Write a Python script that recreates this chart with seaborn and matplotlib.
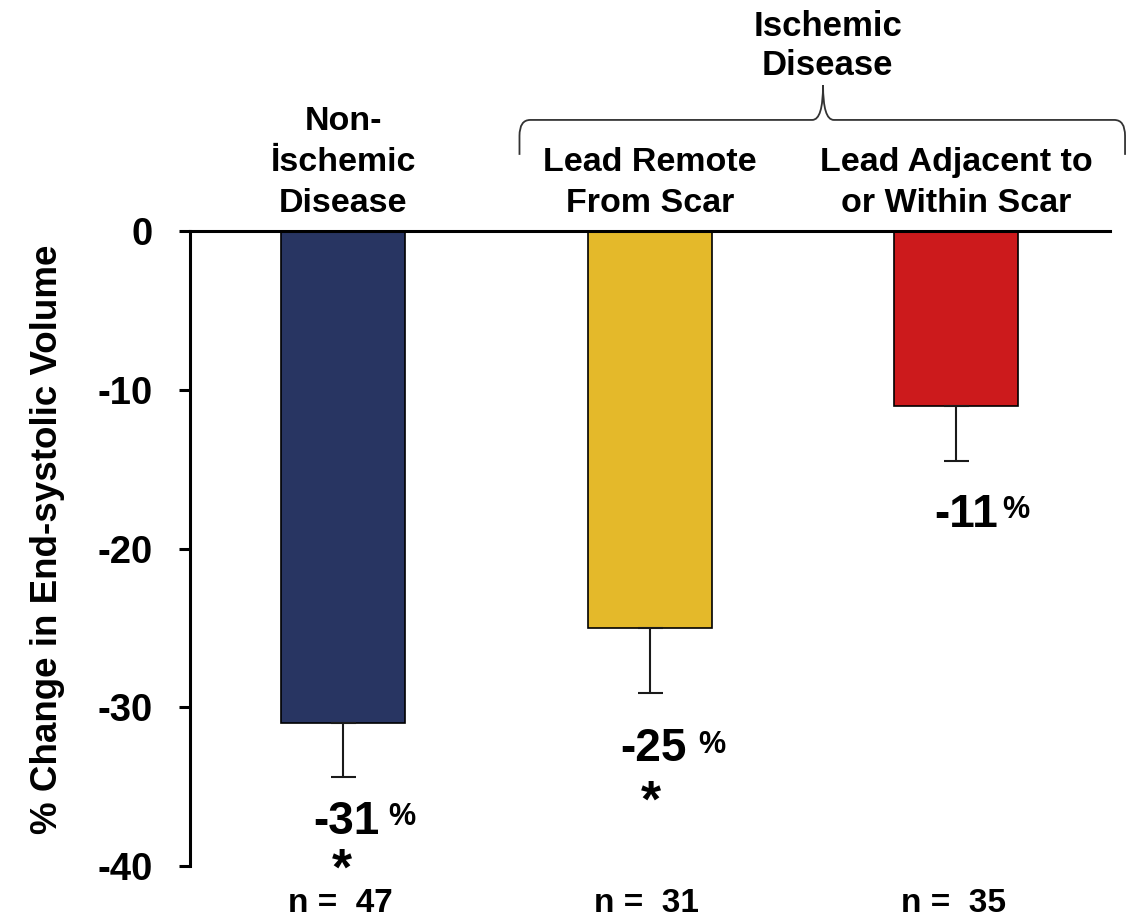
import matplotlib
matplotlib.use("Agg")
import matplotlib.pyplot as plt
from matplotlib.path import Path
from matplotlib.patches import PathPatch
import seaborn as sns

# Data
categories = ["Non-\nİschemic\nDisease", "Lead Remote\nFrom Scar", "Lead Adjacent to\nor Within Scar"]
pct_change = [-31, -25, -11]
sem = [3.4, 4.1, 3.5]
n_patients = [47, 31, 35]
significant = [True, True, False]
bar_colors = ["#283562", "#E4B92A", "#CC1A1C"]
yticks = [0, -10, -20, -30, -40]
group_label = "Ischemic\nDisease"

sns.set_style("white")
plt.rcParams["font.family"] = ["Liberation Sans", "DejaVu Sans"]
plt.rcParams["font.weight"] = "bold"
plt.rcParams["text.color"] = "black"
plt.rcParams["axes.labelcolor"] = "black"
plt.rcParams["ytick.color"] = "black"
plt.rcParams["mathtext.fontset"] = "custom"
plt.rcParams["mathtext.bf"] = "Liberation Sans:bold"
plt.rcParams["mathtext.rm"] = "Liberation Sans"

fig = plt.figure(figsize=(11.37, 9.18), dpi=100)
ax = fig.add_axes([0.167, 0.0566, 0.809, 0.6917])

x_idx = list(range(len(categories)))
sns.barplot(x=x_idx, y=pct_change, hue=x_idx, palette=bar_colors, legend=False,
            width=0.405, edgecolor="black", linewidth=1.2, ax=ax, saturation=1)

# One-sided (downward) error bars
ax.errorbar(x_idx, pct_change, yerr=[sem, [0] * len(sem)], fmt="none",
            ecolor="#1a1a1a", elinewidth=1.5, capsize=9, capthick=1.5, zorder=3)

ax.set_xlim(-0.5, 2.5)
ax.set_ylim(-40, 0)
ax.set_yticks(yticks)
ax.set_yticklabels([str(t) for t in yticks], fontsize=27.5, fontweight="bold")
ax.set_xticks([])
ax.set_xlabel("")
ax.set_ylabel("% Change in End-systolic Volume", fontsize=26.5, fontweight="bold")
ax.yaxis.label.set_va("center")
ax.yaxis.set_label_coords(-0.155, 0.515)

for side in ["right", "bottom"]:
    ax.spines[side].set_visible(False)
for side in ["left", "top"]:
    ax.spines[side].set_linewidth(2.2)
    ax.spines[side].set_color("black")
ax.tick_params(axis="y", direction="out", length=8, width=2.2, color="black", pad=19)
ax.yaxis.set_ticks_position("left")

# Category labels above the zero line
for i, lab in enumerate(categories):
    ax.text(i, 1.2, lab, ha="center", va="baseline", fontsize=24.5, fontweight="bold",
            linespacing=1.42, clip_on=False)

# Value labels (number, percent sign) and significance stars
num_pos = [(0.12, -6.2), (0.12, -7.6), (0.135, -6.9)]
pct_pos = [(0.147, -5.9), (0.157, -7.4), (0.148, -6.6)]
star_pos = [(-0.004, -9.25), (0.003, -10.95)]
for i, (v, sig) in enumerate(zip(pct_change, significant)):
    nx, ny = num_pos[i]
    px, py = pct_pos[i]
    ax.text(i + nx, v + ny, f"{v:d}", ha="right", va="center",
            fontsize=33, fontweight="bold", clip_on=False)
    ax.text(i + px, v + py, "%", ha="left", va="center",
            fontsize=22, fontweight="bold", clip_on=False)
    if sig:
        sx, sy = star_pos[i]
        ax.text(i + sx, v + sy, r"$\mathbf{*}$", ha="center", va="center",
                fontsize=37, clip_on=False)

# Sample sizes below the axis
for i, n in enumerate(n_patients):
    ax.text(i - 0.01, -42.35, f"n =  {n}", ha="center", va="center", fontsize=24,
            fontweight="bold", clip_on=False)

# Curly bracket grouping the ischemic subgroups
xl, xr, xm = 0.575, 2.55, 1.565
yb, yh, yp = 4.8, 7.0, 9.2
r = 0.035
verts = [
    (xl, yb), (xl, yh - 1.0), (xl, yh), (xl + r, yh),
    (xm - r, yh), (xm, yh), (xm, yp),
    (xm, yp), (xm, yh), (xm + r, yh),
    (xr - r, yh), (xr, yh), (xr, yh - 1.0), (xr, yb),
]
codes = [
    Path.MOVETO, Path.LINETO, Path.CURVE3, Path.CURVE3,
    Path.LINETO, Path.CURVE3, Path.CURVE3,
    Path.MOVETO, Path.CURVE3, Path.CURVE3,
    Path.LINETO, Path.CURVE3, Path.CURVE3, Path.LINETO,
]
brace = PathPatch(Path(verts, codes), facecolor="none", edgecolor="#333333",
                  linewidth=1.3, clip_on=False, transform=ax.transData)
ax.add_patch(brace)
ax.text(xm + 0.015, 9.8, group_label, ha="center", va="baseline", fontsize=25,
        fontweight="bold", linespacing=1.25, clip_on=False)

fig.savefig("out.png", dpi=100, facecolor="white")
